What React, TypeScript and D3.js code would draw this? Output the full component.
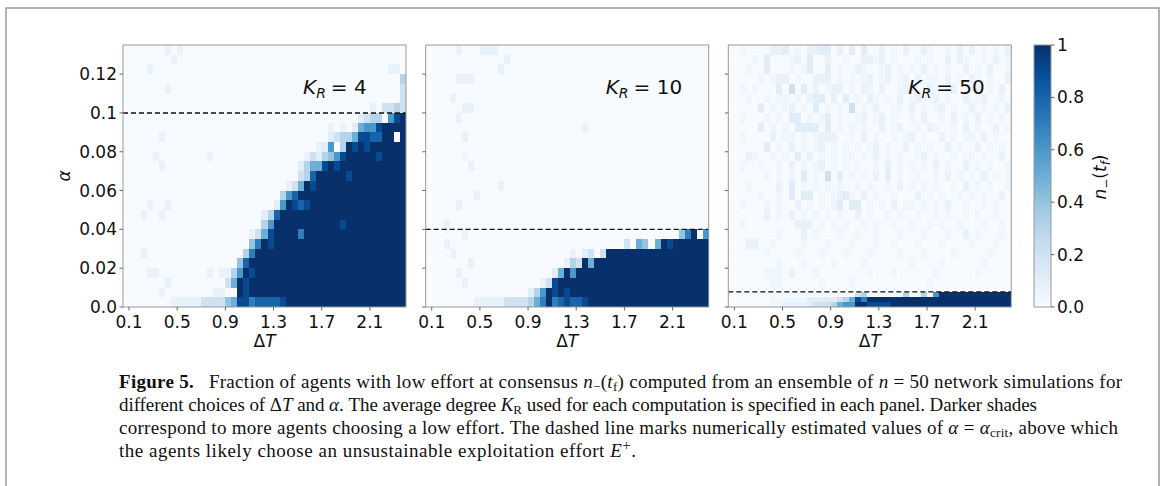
import * as d3 from "d3";

// ΔT columns and α rows of the heatmaps
const dTStart = 0.05;
const dTStep = 0.05;
const nCols = 47;
const alphaMax = 0.135;

const xTicks = [0.1, 0.5, 0.9, 1.3, 1.7, 2.1];
const yTicks = [0, 0.02, 0.04, 0.06, 0.08, 0.1, 0.12];
const yTickLabels = ["0.0", "0.02", "0.04", "0.06", "0.08", "0.1", "0.12"];
const cbTicks = [0, 0.2, 0.4, 0.6, 0.8, 1];
const cbTickLabels = ["0.0", "0.2", "0.4", "0.6", "0.8", "1"];
const kValues = ["4", "10", "50"];
const alphaCrit = [0.1, 0.04, 0.0078];

// cell value code: . 0, , 0.04, : 0.07, digits d/10, X 1
const level: Record<string, number> = {
  ".": 0, ",": 0.04, ":": 0.07, "1": 0.11, "2": 0.2, "3": 0.3, "4": 0.4,
  "5": 0.5, "6": 0.6, "7": 0.7, "8": 0.8, "9": 0.9, X: 1,
};

// rows listed top (high α) to bottom (α = 0), 47 columns in groups of 10
const kr4Rows = [
  ".......:.: .......... .......... .......... .......",
  "........:. .......... .......... .......... .......",
  "....:..... .......... .......... .......... ....::.",
  ".......... .......... .......... .......... ......3",
  ".......:.. .......... .......... .......... ......2",
  ".......... .......... .......... .......... ......2",
  ".......... .......... .......... .......... .:.2232",
  ".......... .......... .......... .........1 233.69X",
  ".......... .......... .......... ....:.:.15 669XXXX",
  "......:... .......... .......... ....123359 988XX.X",
  ".......... .......... .......... ..:16.3X9X 9XXXXXX",
  ".....:.... ....:..... .......... :213469XXX XX9XXXX",
  "......:... .......... .........1 3559X9XXXX XXXXXXX",
  ".......... .......... .........2 38XXXXX9XX XXXXXXX",
  ".......... .......... .......:25 X9XXXXXXXX XXXXXXX",
  ".......... .......... ......368X XXXXXXXXXX XXXXXXX",
  "....:..:.. .......... .....16X98 9XXXXXXXXX XXXXXXX",
  "...:..:... .......... ...138XXXX XXXXXXXXXX XXXXXXX",
  ".......... .......... ...36XXXXX XXXXXX9XXX XXXXXXX",
  ".......... .......... .:259XXXX7 XXXXXXXXXX XXXXXXX",
  ".......... .......... .47X9XXXXX XXXXXXXXXX XXXXXXX",
  "...:...... .......... 37XXXXXXXX XXXXXXXXXX XXXXXXX",
  ".......... .........4 8XXXXXXXXX XXXXXXXXXX XXXXXXX",
  "....::.... ....:.::36 X9XXXXXXXX XXXXXXXXXX XXXXXXX",
  ".......:.. .......25X 9XXXXXXXXX XXXXXXXXXX XXXXXXX",
  "......:... .....::..X 9XXXXXXXXX XXXXXXXXXX XXXXXXX",
  "........:: :::2222459 9788889XXX XXXXXXXXXX XXXXXXX",
];

const kr10Rows = [
  ".....:...: ::........ .......... .......... .......",
  ".......... ...:...... .......... .......... .......",
  ".......... ..:....... .......... .......... .......",
  ".....:::.. .......... .......... .......... .......",
  ".......... .......... .......... .......... .......",
  "....:..... .......... .......... .......... .......",
  "......::.. .......... .......... .......... .......",
  ".....:.... .......... .......... .......... .......",
  ".......... .......... ......:... .......... .......",
  "......:... .......... .......... .......... .......",
  ".......... .......... .......... .......... .......",
  "......,... .......... .......... .......... .......",
  ".......:.. .......... .......... .......... .......",
  ".......... .......... .......... .......... .......",
  ".......... ..:....... .......... .......... .......",
  "........:. .......... .......... .......... .......",
  ".....:.... .......... .......... .......... .......",
  ".......... .......... .......... .......... .......",
  "...:...... .......... .......... .......... .......",
  "......:... .......... .......... .......... ..47X.6",
  "...:...... .......... .......... ...2.54.5X 9XXXXXX",
  "....:..... .......... ....:.12.2 XXXXXXXXXX XXXXXXX",
  ".......:.. .......... ...:32X5XX XXXXXXXXXX XXXXXXX",
  ".....:.... .......... .15X6XXXXX XXXXXXXXXX XXXXXXX",
  "......:... .........: 29XXXXXXXX XXXXXXXXXX XXXXXXX",
  ".......... .......136 X9X9XXXXXX XXXXXXXXXX XXXXXXX",
  "........:: :::2222357 X789889XXX XXXXXXXXXX XXXXXXX",
];

// K_R = 50: α 0.01..0.135 in steps of 0.005
const kr50Upper = [
  "..,....::1 .,.::11.:. 1.1..:.,.: ..:,..,.:. :.,.,.:",
  "....,.1... ,:.1..:.., ..::,:.,.. .,.,..:.:, ..,.:.,",
  "...,..1... ,.,1..1.,. .:,..,:.,. ,.:.,.,..: .,.:..,",
  ".....,.,:: .,..:::.,. ,.,:.,:.,: .:.,,.:.,. :,.,..:",
  "..,.,...1. 2.1.:.,::. ,.:,.:..,: ,..:,.,:.. ,:.,.:.",
  "...,..,.,, .,.:11.:.1 .,.:,.,.:. ,:,.:.,..: .,:..,.",
  ".....1.,., :.,.1.,.,. 2.,.:..,,. :.,.,:.,.. :.,.,.:",
  "..,...,.,. 11.,.,1.,. .,:.,:.,.. ,.:..,.:., .:.,.,.",
  ".....1.,., .1111.1.,. ,.,..:.,:. .,.:,..,.: .,..:.,",
  "..,....:., ,.,.,:::.. ,.:.,..,., :.,..:.,., ,.:.,..",
  "......1.,. :.,.,:.,., .,.,:.,..: .,.,..:.,. .:.,.,.",
  "...:,..,., .1.:.,.,., ,.,.:.,.,. .,:.,..,., ,.,..:.",
  "..,..,..,. :.,.,:.,., .,..,.:.,. ,.,.:.,..: .,.,..,",
  "......,.,. ,.1.,.2.1. ,.,.:.1.,. .,..,.:.,. ,.:.,.,",
  "...,....:. 1.,.,.,.,. .,.,..,.:. ,.,.,..,.: .,.,..,",
  ".....,..,. 1.11.,.,:1 ,.:.,..,.. .:.,.,..,. ,.,..:.",
  "..,...,.,. .:.,.,.,1. 11.,.,.:., ,.,.,.:.., ..,.,..",
  "......:.,. :.,.,.,.,. .:.,..,.,. .,..,.,.., .,..,..",
  "..,....... .:::.,.,., ..,.,..,.. ,..,.,..,. ..,..,.",
  "........,. ..:.,...,. .,..,...,. ..,...,..: .,...,.",
  "...::..,.. ..,...,... ,...,..,.. .,...,.... ,...,..",
  "......,... .,...,..., ...,....,. ..,....,.. ...,...",
  "........,. ..,....,.. ..,....... ,....,.... ..,....",
  "......,,,. :...,..... ...,...,.. ....,..... .,.....",
  ".......,,. .....,.... ,......... ...,...... .......",
];

// K_R = 50: α 0..0.01 in steps of 0.0025
const kr50Lower = [
  ".......... .......... .......... .......... .......",
  ".......... .......... .23......3 ..3.6XXXXX XXXXXXX",
  ".......,,, ,,,1111123 597XXXXXXX XXXXXXXXXX XXXXXXX",
  ".......,,: :::1222356 6XX9999XXX XXXXXXXXXX XXXXXXX",
];

const panelBlocks = [
  [{ alpha0: 0, step: 0.005, rows: kr4Rows }],
  [{ alpha0: 0, step: 0.005, rows: kr10Rows }],
  [
    { alpha0: 0.01, step: 0.005, rows: kr50Upper },
    { alpha0: 0, step: 0.0025, rows: kr50Lower },
  ],
];

const blues = [
  "#f7fbff", "#deebf7", "#c6dbef", "#9ecae1", "#6baed6",
  "#4292c6", "#2171b5", "#08519c", "#08306b",
];
const color = d3
  .scaleLinear<string>()
  .domain(blues.map((_, i) => i / (blues.length - 1)))
  .range(blues)
  .interpolate(d3.interpolateRgb)
  .clamp(true);

const W = 1165;
const H = 486;
const panelLeft = [123, 425.7, 728.3];
const panelW = 283;
const top = 45;
const bottom = 307;
const sans = "DejaVu Sans";
const serif = "Liberation Serif";
const tickFont = 17;

const parseRow = (s: string) =>
  s.replace(/ /g, "").padEnd(nCols, ".").slice(0, nCols).split("");

const y = d3.scaleLinear().domain([0, alphaMax]).range([bottom, top]);

function Panel({ idx }: { idx: number }) {
  const left = panelLeft[idx];
  const x = d3
    .scaleLinear()
    .domain([dTStart, dTStart + nCols * dTStep])
    .range([left, left + panelW]);
  const cells: JSX.Element[] = [];
  panelBlocks[idx].forEach((b, bi) => {
    const n = b.rows.length;
    b.rows.forEach((row, ri) => {
      const lo = b.alpha0 + (n - 1 - ri) * b.step;
      const y0 = y(lo + b.step);
      const y1 = y(lo);
      parseRow(row).forEach((ch, ci) => {
        const x0 = x(dTStart + ci * dTStep);
        const x1 = x(dTStart + (ci + 1) * dTStep);
        cells.push(
          <rect
            key={`${bi}-${ri}-${ci}`}
            x={x0}
            y={y0}
            width={x1 - x0}
            height={y1 - y0}
            fill={color(level[ch] ?? 0)}
          />
        );
      });
    });
  });
  return (
    <g>
      <g shapeRendering="crispEdges">{cells}</g>
      <line
        x1={left}
        x2={left + panelW}
        y1={y(alphaCrit[idx])}
        y2={y(alphaCrit[idx])}
        stroke="#111"
        strokeWidth={1.4}
        strokeDasharray="5,3"
      />
      <rect
        x={left}
        y={top}
        width={panelW}
        height={bottom - top}
        fill="none"
        stroke="#999"
        strokeWidth={1}
      />
      {yTicks.map((t, i) => (
        <g key={`y${i}`}>
          <line x1={left - 3.5} x2={left} y1={y(t)} y2={y(t)} stroke="#444" strokeWidth={0.8} />
          {idx === 0 && (
            <text
              x={left - 6}
              y={y(t) + 6}
              textAnchor="end"
              fontFamily={sans}
              fontSize={tickFont}
              fill="#111"
            >
              {yTickLabels[i]}
            </text>
          )}
        </g>
      ))}
      {xTicks.map((t, i) => (
        <g key={`x${i}`}>
          <line x1={x(t)} x2={x(t)} y1={bottom} y2={bottom + 3.5} stroke="#444" strokeWidth={0.8} />
          <text
            x={x(t)}
            y={328}
            textAnchor="middle"
            fontFamily={sans}
            fontSize={tickFont}
            fill="#111"
          >
            {t.toFixed(1)}
          </text>
        </g>
      ))}
      <text
        x={left + panelW / 2}
        y={347}
        textAnchor="middle"
        fontFamily={sans}
        fontSize={tickFont}
        fill="#111"
      >
        Δ<tspan fontStyle="italic">T</tspan>
      </text>
      <text x={left + 180} y={94} fontFamily={sans} fontSize={20} fill="#111">
        <tspan fontStyle="italic">K</tspan>
        <tspan fontStyle="italic" fontSize={14} dy={4}>
          R
        </tspan>
        <tspan dy={-4} dx={5}>
          {`= ${kValues[idx]}`}
        </tspan>
      </text>
    </g>
  );
}

function ColorBar() {
  const cx = 1034;
  const cw = 17;
  const cy = d3.scaleLinear().domain([0, 1]).range([bottom, top]);
  return (
    <g>
      <defs>
        <linearGradient id="cbGrad" x1="0" y1="1" x2="0" y2="0">
          {blues.map((c, i) => (
            <stop key={i} offset={i / (blues.length - 1)} stopColor={c} />
          ))}
        </linearGradient>
      </defs>
      <rect x={cx} y={top} width={cw} height={bottom - top} fill="url(#cbGrad)" stroke="#999" strokeWidth={1} />
      {cbTicks.map((t, i) => (
        <g key={i}>
          <line x1={cx + cw} x2={cx + cw + 3.5} y1={cy(t)} y2={cy(t)} stroke="#444" strokeWidth={0.8} />
          <text x={cx + cw + 6} y={cy(t) + 6} fontFamily={sans} fontSize={tickFont} fill="#111">
            {cbTickLabels[i]}
          </text>
        </g>
      ))}
      <text
        x={1106}
        y={177}
        transform="rotate(-90 1106 177)"
        textAnchor="middle"
        fontFamily={sans}
        fontSize={tickFont}
        fill="#111"
      >
        <tspan fontStyle="italic">n</tspan>
        <tspan fontSize={12} dy={4}>−</tspan>
        <tspan dy={-4}>(</tspan>
        <tspan fontStyle="italic">t</tspan>
        <tspan fontStyle="italic" fontSize={12} dy={4}>f</tspan>
        <tspan dy={-4}>)</tspan>
      </text>
    </g>
  );
}

function Caption() {
  const fs = 19;
  const sub = 13;
  const x0 = 119;
  return (
    <g fontFamily={serif} fontSize={fs} fill="#111">
      <text x={x0} y={388} textLength={1003} lengthAdjust="spacing">
        <tspan fontWeight="bold">Figure 5.</tspan>
        {"\u2002 Fraction of agents with low effort at consensus "}
        <tspan fontStyle="italic">n</tspan>
        <tspan fontSize={sub} dy={3}>−</tspan>
        <tspan dy={-3}>(</tspan>
        <tspan fontStyle="italic">t</tspan>
        <tspan fontSize={sub} dy={3}>f</tspan>
        <tspan dy={-3}>) computed from an ensemble of </tspan>
        <tspan fontStyle="italic">n</tspan>
        {" = 50 network simulations for"}
      </text>
      <text x={x0} y={411} textLength={918} lengthAdjust="spacing">
        {"different choices of Δ"}
        <tspan fontStyle="italic">T</tspan>
        {" and "}
        <tspan fontStyle="italic">α</tspan>
        {". The average degree "}
        <tspan fontStyle="italic">K</tspan>
        <tspan fontSize={sub} dy={3}>R</tspan>
        <tspan dy={-3}> used for each computation is specified in each panel. Darker shades</tspan>
      </text>
      <text x={x0} y={434} textLength={999} lengthAdjust="spacing">
        {"correspond to more agents choosing a low effort. The dashed line marks numerically estimated values of "}
        <tspan fontStyle="italic">α</tspan>
        {" = "}
        <tspan fontStyle="italic">α</tspan>
        <tspan fontSize={sub} dy={3}>crit</tspan>
        <tspan dy={-3}>, above which</tspan>
      </text>
      <text x={x0} y={457} textLength={517} lengthAdjust="spacing">
        {"the agents likely choose an unsustainable exploitation effort "}
        <tspan fontStyle="italic">E</tspan>
        <tspan fontSize={15} dy={-7}>+</tspan>
        <tspan dy={7}>.</tspan>
      </text>
    </g>
  );
}

export default function App() {
  return (
    <svg
      width={W}
      height={H}
      viewBox={`0 0 ${W} ${H}`}
      style={{ position: "absolute", left: 0, top: 0, background: "#fff" }}
    >
      <rect x={6} y={8} width={1153} height={H + 10} fill="none" stroke="#999" strokeWidth={1.5} />
      {kValues.map((_, i) => (
        <Panel key={i} idx={i} />
      ))}
      <ColorBar />
      <text
        x={70}
        y={176}
        transform="rotate(-90 70 176)"
        textAnchor="middle"
        fontFamily={sans}
        fontStyle="italic"
        fontSize={tickFont}
        fill="#111"
      >
        α
      </text>
      <Caption />
    </svg>
  );
}
